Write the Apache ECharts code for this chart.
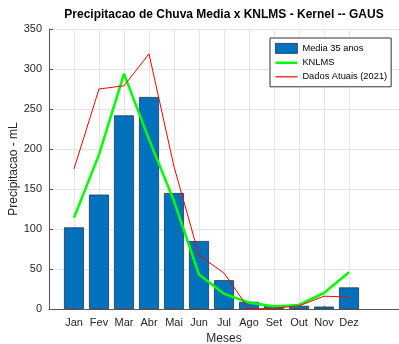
<!DOCTYPE html>
<html>
<head>
<meta charset="utf-8">
<script src="https://cdn.jsdelivr.net/npm/echarts@6/dist/echarts.min.js"></script>
<style>
  html, body { margin: 0; padding: 0; background: #fff; }
  #chart { width: 399px; height: 344px; }
</style>
</head>
<body>
<div id="chart"></div>
<script>
// Monthly rainfall: 35-year average, KNLMS estimate and the 2021 readings
const meses = ['Jan', 'Fev', 'Mar', 'Abr', 'Mai', 'Jun', 'Jul', 'Ago', 'Set', 'Out', 'Nov', 'Dez'];
const media35 = [102, 143, 242, 265, 145, 85, 36, 9, 5, 4, 3, 27];
const knlms = [114, 193, 294, 212, 135, 43, 19, 8, 3, 5, 20, 46];
const dados2021 = [175, 275, 279, 319, 178, 67, 45, 0, 1, 4, 16, 15];
const yTicks = [0, 50, 100, 150, 200, 250, 300, 350];

// months sit at x = 1..12 on a 0..14 numeric axis
const monthPos = meses.map((m, i) => i + 1);
const pairs = vals => vals.map((v, i) => [monthPos[i], v]);

const textColor = '#262626';
const font = 'Liberation Sans, Arial, Helvetica, sans-serif';

// legend glyph for a line: a horizontal stroke centred in a 22x10 box
const lineIcon = h => 'path://M0,0L0,0M0,' + (5 - h / 2) + 'L22,' + (5 - h / 2) + 'L22,' + (5 + h / 2) + 'L0,' + (5 + h / 2) + 'ZM22,10L22,10';

const chart = echarts.init(document.getElementById('chart'), null, { renderer: 'canvas' });
chart.setOption({
  animation: false,
  backgroundColor: '#fff',
  textStyle: { fontFamily: font, color: textColor },
  title: {
    text: 'Precipitacao de Chuva Media x KNLMS - Kernel -- GAUS',
    left: 219, top: 4, textAlign: 'center',
    textStyle: { fontSize: 12, fontWeight: 'bold', color: '#000', fontFamily: font }
  },
  legend: {
    orient: 'vertical',
    left: 270, top: 38,
    backgroundColor: '#fff',
    borderColor: '#333',
    borderWidth: 1,
    borderRadius: 0,
    padding: [5, 4, 5, 5],
    itemGap: 4,
    itemWidth: 22,
    itemHeight: 10,
    textStyle: { fontSize: 9.3, color: '#000', fontFamily: font },
    data: [
      { name: 'Media 35 anos', icon: 'rect', itemStyle: { color: '#0072BD', borderColor: '#1f3550', borderWidth: 0.8 } },
      { name: 'KNLMS', icon: lineIcon(2.5), itemStyle: { color: '#00FF00', borderWidth: 0 } },
      { name: 'Dados Atuais (2021)', icon: lineIcon(1.2), itemStyle: { color: '#FF0000', borderWidth: 0 } }
    ]
  },
  grid: { left: 49, right: 0, top: 29, bottom: 35, containLabel: false, outerBoundsMode: 'none' },
  xAxis: {
    type: 'value',
    min: 0, max: 14, interval: 1,
    name: 'Meses',
    nameLocation: 'middle',
    nameGap: 24,
    nameMoveOverlap: false,
    nameTextStyle: { fontSize: 12, color: textColor },
    axisLine: { show: true, lineStyle: { color: '#555', width: 1 } },
    axisTick: { show: true, inside: true, length: 3, lineStyle: { color: '#555' }, customValues: monthPos },
    axisLabel: {
      fontSize: 11, color: textColor, margin: 8,
      customValues: monthPos,
      formatter: v => meses[v - 1] || ''
    },
    splitLine: { show: true, lineStyle: { color: '#e6e6e6', width: 1 } }
  },
  yAxis: {
    type: 'value',
    min: 0, max: 350, interval: 50,
    name: 'Precipitacao - mL',
    nameLocation: 'middle',
    nameGap: 29,
    nameMoveOverlap: false,
    nameTextStyle: { fontSize: 12, color: textColor },
    axisLine: { show: true, lineStyle: { color: '#555', width: 1 } },
    axisTick: { show: true, inside: true, length: 4, lineStyle: { color: '#555' } },
    axisLabel: { fontSize: 11, color: textColor, margin: 7, formatter: v => yTicks.includes(v) ? String(v) : '' },
    splitLine: { show: true, lineStyle: { color: '#e6e6e6', width: 1 } }
  },
  series: [
    {
      name: 'Media 35 anos',
      type: 'bar',
      data: pairs(media35),
      barWidth: 20,
      itemStyle: { color: '#0072BD', borderColor: '#1f3550', borderWidth: 0.8 },
      z: 2
    },
    {
      name: 'KNLMS',
      type: 'line',
      data: pairs(knlms),
      symbol: 'none',
      lineStyle: { color: '#00FF00', width: 2.5 },
      itemStyle: { color: '#00FF00' },
      z: 3
    },
    {
      name: 'Dados Atuais (2021)',
      type: 'line',
      data: pairs(dados2021),
      symbol: 'none',
      lineStyle: { color: '#FF0000', width: 1 },
      itemStyle: { color: '#FF0000' },
      z: 4
    }
  ]
});
</script>
</body>
</html>
